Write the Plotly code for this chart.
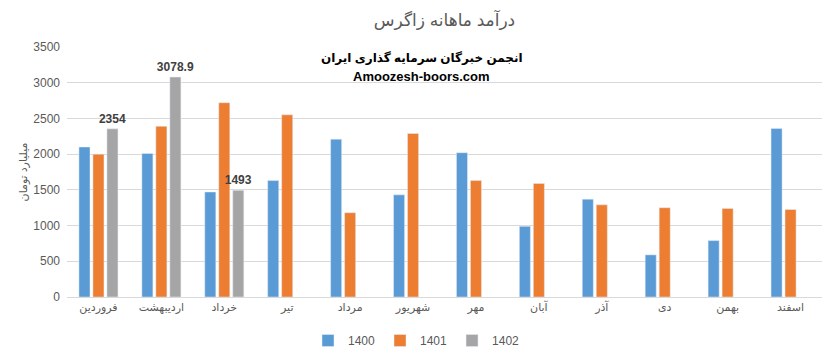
import plotly.graph_objects as go

months = ["فروردین", "اردیبهشت", "خرداد", "تیر", "مرداد", "شهریور", "مهر", "آبان", "آذر", "دی", "بهمن", "اسفند"]
s1400 = [2100, 2010, 1470, 1630, 2210, 1430, 2020, 990, 1370, 590, 790, 2360]
s1401 = [2000, 2390, 2720, 2550, 1180, 2290, 1630, 1590, 1290, 1250, 1240, 1225]
s1402 = [2354, 3078.9, 1493, None, None, None, None, None, None, None, None, None]
labels1402 = ["2354", "3078.9", "1493"] + [""] * 9
series_names = ["1400", "1401", "1402"]
colors = ["#5B9BD5", "#ED7D31", "#A5A5A5"]
yticks = [0, 500, 1000, 1500, 2000, 2500, 3000, 3500]

FONT = "Liberation Sans, DejaVu Sans, sans-serif"

fig = go.Figure()
fig.add_trace(go.Bar(x=months, y=s1400, name=series_names[0], marker_color=colors[0]))
fig.add_trace(go.Bar(x=months, y=s1401, name=series_names[1], marker_color=colors[1]))
fig.add_trace(go.Bar(x=months, y=s1402, name=series_names[2], marker_color=colors[2],
                     text=labels1402, textposition="outside", cliponaxis=False,
                     constraintext="none",
                     textfont=dict(family=FONT, size=12, color="#404040", weight="bold")))

fig.update_layout(
    width=833, height=356,
    margin=dict(l=67, r=11, t=47, b=59, autoexpand=False),
    paper_bgcolor="white", plot_bgcolor="white",
    barmode="group", bargap=0.333, bargroupgap=0.21,
    font=dict(family=FONT, size=11, color="#595959"),
    title=dict(text="درآمد ماهانه زاگرس", x=0.5, xanchor="center", xref="paper",
               y=1 - 20 / 356, yanchor="middle", yref="container",
               font=dict(family=FONT, size=17, color="#595959")),
    showlegend=True,
    legend=dict(orientation="h", x=0.5, xanchor="center", xref="container",
                y=1 - 326 / 356, yanchor="top", yref="container",
                font=dict(family=FONT, size=12, color="#595959"),
                itemwidth=30),
    xaxis=dict(showline=True, linecolor="#D9D9D9", ticks="", automargin=False,
               tickfont=dict(size=11, color="#595959"), showgrid=False),
    yaxis=dict(range=[0, 3500], tickvals=yticks, showgrid=True, gridcolor="#D9D9D9",
               zeroline=False, ticks="", ticklabelstandoff=6, automargin=False,
               tickfont=dict(size=12, color="#595959"),
               title=dict(text="میلیارد تومان", font=dict(size=11, color="#595959"), standoff=3)),
)

fig.add_annotation(text="<b>انجمن خبرگان سرمایه گذاری ایران</b>", xref="paper", yref="paper",
                   x=0.47, y=3470 / 3500, showarrow=False,
                   font=dict(family=FONT, size=12, color="#000000"))
fig.add_annotation(text="<b>Amoozesh-boors.com</b>", xref="paper", yref="paper",
                   x=0.47, y=3215 / 3500, showarrow=False,
                   font=dict(family=FONT, size=13, color="#000000"))

fig.write_html("out.html", config={"displayModeBar": False},
               post_script="document.body.style.margin='0';")
